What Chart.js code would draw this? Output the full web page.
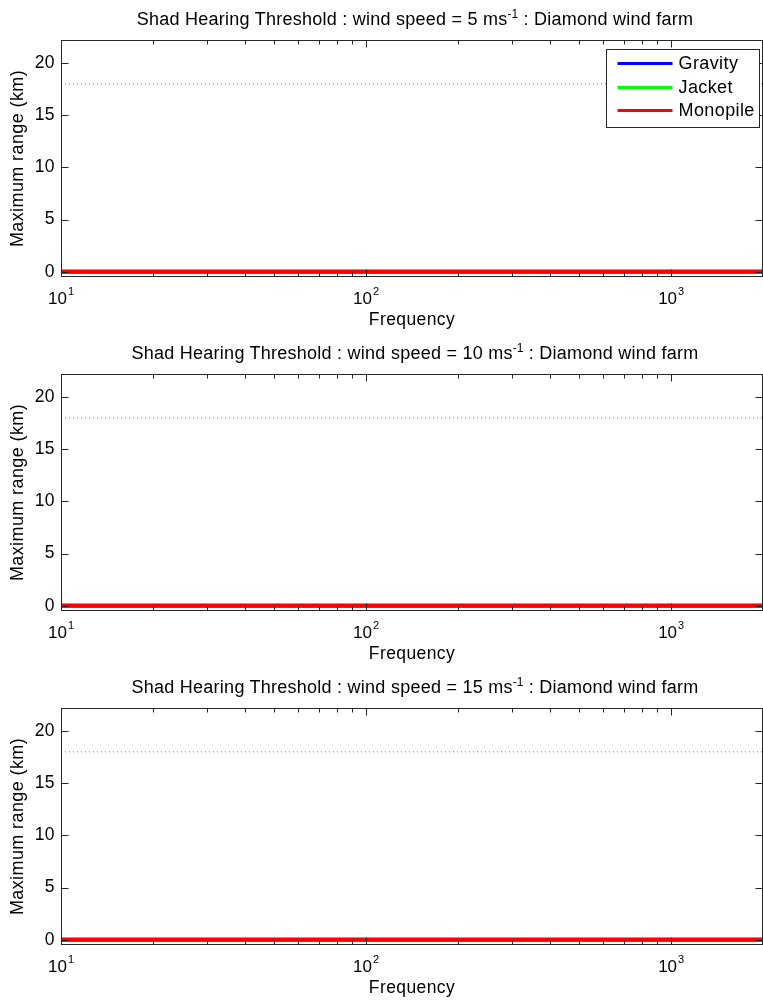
<!DOCTYPE html>
<html><head><meta charset="utf-8">
<script src="https://cdn.jsdelivr.net/npm/chart.js@4/dist/chart.umd.min.js"></script>
<style>
html,body{margin:0;padding:0;background:#fff;}
body{width:763px;height:1004px;position:relative;overflow:hidden;font-family:"Liberation Sans",Arial,sans-serif;}
.panel{position:absolute;left:0;width:763px;height:334px;}
.panel canvas{position:absolute;left:0;top:0;}
.title{position:absolute;left:64px;width:702px;top:9px;text-align:center;font-size:18px;letter-spacing:0.25px;line-height:20px;color:#000;white-space:nowrap;z-index:2;}
.title sup{font-size:12px;line-height:0;vertical-align:baseline;position:relative;top:-7px;letter-spacing:0;}
</style></head>
<body>
<div class="panel" style="top:0px"><div class="title" id="t0"></div><canvas id="c0" width="763" height="334"></canvas></div>
<div class="panel" style="top:334px"><div class="title" id="t1"></div><canvas id="c1" width="763" height="334"></canvas></div>
<div class="panel" style="top:668px"><div class="title" id="t2"></div><canvas id="c2" width="763" height="334"></canvas></div>
<script>
// ---- data ----
const frequency = [10,12.5,16,20,25,31.5,40,50,63,80,100,125,160,200,250,315,400,500,630,800,1000,1250,1600,2000];
const windSpeeds = [5, 10, 15];
const gravity5   = [0,0,0,0,0,0,0,0,0,0,0,0,0,0,0,0,0,0,0,0,0,0,0,0];
const jacket5    = [0,0,0,0,0,0,0,0,0,0,0,0,0,0,0,0,0,0,0,0,0,0,0,0];
const monopile5  = [0,0,0,0,0,0,0,0,0,0,0,0,0,0,0,0,0,0,0,0,0,0,0,0];
const gravity10  = [0,0,0,0,0,0,0,0,0,0,0,0,0,0,0,0,0,0,0,0,0,0,0,0];
const jacket10   = [0,0,0,0,0,0,0,0,0,0,0,0,0,0,0,0,0,0,0,0,0,0,0,0];
const monopile10 = [0,0,0,0,0,0,0,0,0,0,0,0,0,0,0,0,0,0,0,0,0,0,0,0];
const gravity15  = [0,0,0,0,0,0,0,0,0,0,0,0,0,0,0,0,0,0,0,0,0,0,0,0];
const jacket15   = [0,0,0,0,0,0,0,0,0,0,0,0,0,0,0,0,0,0,0,0,0,0,0,0];
const monopile15 = [0,0,0,0,0,0,0,0,0,0,0,0,0,0,0,0,0,0,0,0,0,0,0,0];
const referenceFreq  = [10, 2000];
const referenceRange = [18, 18];
const seriesNames = ['Gravity', 'Jacket', 'Monopile'];
const xTicks = [10,20,30,40,50,60,70,80,90,100,200,300,400,500,600,700,800,900,1000,2000];
const decadeTicks = [10, 100, 1000];
const decadeExponents = ['1', '2', '3'];
const yTicks = [0, 5, 10, 15, 20];

const panels = [
  [gravity5, jacket5, monopile5],
  [gravity10, jacket10, monopile10],
  [gravity15, jacket15, monopile15]
];
const colors = ['#0000ff', '#00ff00', '#ff0000'];
const FONT = '"Liberation Sans", Arial, sans-serif';

const spacingPlugin = {
  id: 'spacing',
  beforeDraw(chart) { chart.ctx.letterSpacing = '0.4px'; },
  afterDraw(chart) { chart.ctx.letterSpacing = '0px'; }
};

const framePlugin = {
  id: 'frame',
  afterDraw(chart, args, opts) {
    const {ctx, chartArea: a, scales: {x, y}} = chart;
    ctx.save();
    ctx.letterSpacing = '0px';
    ctx.strokeStyle = '#262626';
    ctx.lineWidth = 1;
    const L = Math.round(a.left) + 0.5, R = Math.round(a.right) - 0.5;
    const T = Math.round(a.top) + 0.5, B = Math.round(a.bottom) - 0.5;
    ctx.strokeRect(L, T, R - L, B - T);
    ctx.beginPath();
    x.ticks.forEach(t => {
      const px = Math.round(x.getPixelForValue(t.value)) + 0.5;
      const len = decadeTicks.includes(t.value) ? 7 : 4;
      ctx.moveTo(px, B); ctx.lineTo(px, B - len);
      ctx.moveTo(px, T); ctx.lineTo(px, T + len);
    });
    y.ticks.forEach(t => {
      const py = Math.round(y.getPixelForValue(t.value)) + 0.5;
      ctx.moveTo(L, py); ctx.lineTo(L + 7, py);
      ctx.moveTo(R, py); ctx.lineTo(R - 7, py);
    });
    ctx.stroke();
    // decade tick labels with superscript exponents
    ctx.fillStyle = '#000';
    ctx.textBaseline = 'alphabetic';
    ctx.textAlign = 'left';
    decadeTicks.forEach((v, i) => {
      const px = x.getPixelForValue(v);
      ctx.font = '17px ' + FONT;
      const w1 = ctx.measureText('10').width;
      ctx.font = '11px ' + FONT;
      const w2 = ctx.measureText(decadeExponents[i]).width;
      const start = px - (w1 + w2 + 1) / 2;
      ctx.font = '17px ' + FONT;
      ctx.fillText('10', start, a.bottom + 27);
      ctx.font = '11px ' + FONT;
      ctx.fillText(decadeExponents[i], start + w1 + 1, a.bottom + 18);
    });
    // legend
    if (opts.legend) {
      const bw = 153, bh = 78;
      const bx = Math.round(a.right) - 4 - bw + 0.5, by = Math.round(a.top) + 9.5;
      ctx.fillStyle = '#fff';
      ctx.fillRect(bx, by, bw, bh);
      ctx.strokeStyle = '#262626';
      ctx.strokeRect(bx, by, bw, bh);
      const offs = [14, 38, 61];
      seriesNames.forEach((name, i) => {
        const ds = chart.data.datasets.find(d => d.label === name);
        const ly = by + offs[i];
        ctx.strokeStyle = ds.borderColor;
        ctx.lineWidth = 3;
        ctx.beginPath();
        ctx.moveTo(bx + 11, ly); ctx.lineTo(bx + 66, ly);
        ctx.stroke();
        ctx.fillStyle = '#000';
        ctx.font = '18px ' + FONT;
        ctx.textBaseline = 'middle';
        ctx.letterSpacing = '0.4px';
        ctx.fillText(name, bx + 72, ly + 1);
        ctx.letterSpacing = '0px';
      });
    }
    ctx.restore();
  }
};

panels.forEach((series, p) => {
  document.getElementById('t' + p).innerHTML =
    'Shad Hearing Threshold : wind speed = ' + windSpeeds[p] + ' ms<sup>-1</sup> : Diamond wind farm';
  const datasets = series.map((vals, i) => ({
    label: seriesNames[i],
    data: frequency.map((f, k) => ({x: f, y: vals[k]})),
    borderColor: colors[i],
    backgroundColor: colors[i],
    borderWidth: 4,
    pointRadius: 0,
    fill: false,
    order: 3 - i
  }));
  datasets.push({
    label: 'Reference',
    data: referenceFreq.map((f, k) => ({x: f, y: referenceRange[k]})),
    borderColor: '#7a7a7a',
    borderWidth: 1,
    borderDash: [1, 3],
    pointRadius: 0,
    fill: false,
    order: 10
  });
  new Chart(document.getElementById('c' + p), {
    type: 'line',
    data: {datasets},
    options: {
      responsive: false,
      animation: false,
      layout: {padding: {top: 40, left: 0, right: 0, bottom: 0}},
      plugins: {
        legend: {display: false},
        tooltip: {enabled: false},
        frame: {legend: p === 0}
      },
      scales: {
        x: {
          type: 'logarithmic',
          min: 10, max: 2000,
          afterBuildTicks(s) { s.ticks = xTicks.map(v => ({value: v})); },
          afterFit(s) { s.height = 57; },
          ticks: {display: false},
          grid: {display: false},
          border: {display: false},
          title: {display: true, text: 'Frequency', color: '#000',
                  font: {family: FONT, size: 17.5, lineHeight: 1.2},
                  padding: {top: 0, bottom: 3}}
        },
        y: {
          type: 'linear',
          min: -0.5, max: 22.2,
          afterBuildTicks(s) { s.ticks = yTicks.map(v => ({value: v})); },
          afterFit(s) { s.width = 61; },
          ticks: {color: '#000', font: {family: FONT, size: 17.5}, padding: 6},
          grid: {display: false, drawTicks: false},
          border: {display: false},
          title: {display: true, text: 'Maximum range (km)', color: '#000',
                  font: {family: FONT, size: 18, lineHeight: 1.2},
                  padding: {top: 7, bottom: 0}}
        }
      }
    },
    plugins: [spacingPlugin, framePlugin]
  });
});
</script>
</body></html>
